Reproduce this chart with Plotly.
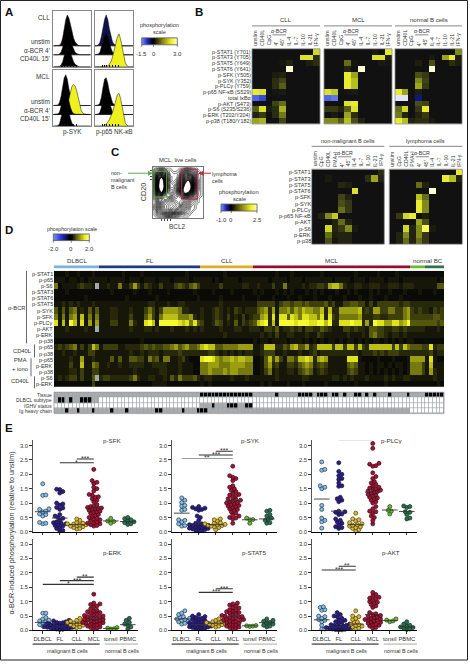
import plotly.graph_objects as go

W, H = 470, 664
FONT = "Liberation Sans"

# ---------- Panel A histograms (relative heights across the channel bins) ----------
hist_bins = list(range(25))
a_cll_syk = [0,0,0,0,.02,.08,.25,.55,.85,1,.9,.7,.45,.25,.12,.05,.02,0,0,0,0,0,0,0,0]
a_cll_syk2 = [0,0,0,0,.04,.12,.3,.6,.9,1,.85,.65,.4,.22,.1,.05,.02,0,0,0,0,0,0,0,0]
a_cll_p65u = [0,0,.03,.1,.3,.6,.85,1,.85,.55,.3,.12,.05,.01,0,0,0,0,0,0,0,0,0,0,0]
a_cll_p65y = [0,0,0,0,0,0,0,0,.02,.08,.15,.3,.5,.7,.9,1,.85,.6,.3,.12,.03,0,0,0,0]
a_mcl_sykb = [0,0,0,.02,.1,.3,.6,.9,1,.85,.55,.3,.12,.04,.01,0,0,0,0,0,0,0,0,0,0]
a_mcl_syky = [0,0,0,0,0,0,.02,.06,.15,.3,.5,.75,.95,1,.95,.8,.55,.3,.12,.04,.01,0,0,0,0]
a_mcl_p65b = [0,0,.02,.08,.3,.65,.95,1,.8,.5,.25,.1,.03,0,0,0,0,0,0,0,0,0,0,0,0]
a_mcl_p65y = [0,0,0,0,0,0,.03,.07,.12,.2,.3,.42,.6,.8,.95,1,.85,.6,.3,.1,.03,0,0,0,0]

# ---------- Panel B ----------
b_rows = ["p-STAT1 (Y701)", "p-STAT3 (Y705)", "p-STAT5 (Y649)", "p-STAT6 (Y641)", "p-SFK (Y505)", "p-SYK (Y352)",
          "p-PLCγ (Y759)", "p-p65 NF-κB (S529)", "total IκBα", "p-AKT (S473)", "p-S6 (S235/S236)",
          "p-ERK (T202/Y204)", "p-p38 (T180/Y182)"]
b_cols = ["unstim", "CD40L", "CpG", "4'", "45'", "IL-4", "IL-7", "IL-10", "IL-21", "IFN-γ"]
b_cll = [[0,0,0,0,0,0,0,0,0,8],
         [0,0,0,0,0,0,0,8.5,8.5,1.5],
         [0,0,0,0,.3,1,0,0,.8,1.5],
         [0,0,0,0,0,11.5,0,0,0,0],
         [0,0,0,.7,1,0,0,0,0,0],
         [0,0,0,1.5,2.5,0,0,0,0,0],
         [0,0,0,1.5,3.5,0,0,0,0,0],
         [9,8.5,0,.3,.5,0,0,0,0,0],
         [-6.5,-5.5,0,-.3,-.3,0,0,0,0,0],
         [0,0,0,2.5,4,0,0,0,0,0],
         [3.5,8.5,.7,1.5,6.5,0,0,0,0,0],
         [1,2,0,1.5,4.5,0,0,0,0,0],
         [6,6.5,0,0,2.5,0,0,0,0,0]]
b_mcl = [[0,0,0,0,0,0,0,.5,0,9],
         [0,0,0,0,0,0,0,8.5,8.5,.8],
         [0,0,0,4,.3,0,0,0,.5,.3],
         [0,0,0,1,0,11.5,0,0,0,0],
         [0,0,0,9,6,0,0,0,0,0],
         [0,0,0,9,7,0,0,0,0,0],
         [0,0,0,9,7,0,0,0,0,0],
         [8.5,7.5,0,.3,.5,0,0,0,0,0],
         [-6.5,-7,0,-.3,-.3,0,0,0,0,0],
         [0,0,0,8.5,9,0,0,0,0,0],
         [2,2,1,3.5,8.5,0,0,0,0,0],
         [0,.5,0,6,1.5,0,0,0,0,0],
         [5,5,3.5,7,3,1,0,0,0,0]]
b_nor = [[0,0,0,0,0,0,0,0,0,5],
         [0,0,0,0,0,.5,0,6,9,.7],
         [0,0,0,.8,0,3,0,0,1.5,.7],
         [0,0,0,0,0,11.5,0,0,0,0],
         [0,0,0,3,2,0,0,0,0,0],
         [0,0,0,5,2.5,0,0,0,0,0],
         [0,0,0,6,2,0,0,0,0,0],
         [9,6,0,.8,0,0,0,0,0,0],
         [-11,-11,0,-3,-.2,0,0,0,0,0],
         [0,0,0,3,2.5,0,0,0,0,0],
         [4,8,0,2,9,0,0,0,0,0],
         [4.5,1,0,1,2,0,0,0,0,0],
         [9,7,1,1.5,1.5,.5,0,0,0,0]]

# ---------- Panel C ----------
c_rows = ["p-STAT1", "p-STAT3", "p-STAT5", "p-STAT6", "p-SFK", "p-SYK", "p-PLCγ", "p-p65 NF-κB", "p-AKT", "p-S6", "p-ERK", "p-p38"]
c_cols = ["unstim", "CpG", "CD40L", "PMA+I", "4'", "45'", "IL-4", "IL-7", "IL-10", "IL-21", "IFN-γ"]
c_non = [[0,0,0,0,0,0,0,0,0,0,1.5],
         [0,0,.5,0,0,0,0,0,1.5,6,1],
         [0,0,0,0,1.2,.8,0,0,0,0,0],
         [0,0,0,0,0,0,8.5,0,0,0,0],
         [0,0,0,0,2.5,1,0,0,0,0,0],
         [0,0,0,0,3,2,0,0,0,0,0],
         [0,0,0,0,4,2,0,0,0,0,0],
         [0,1,5,7.5,0,0,0,0,0,0,0],
         [0,0,0,1,4,1,0,0,0,0,0],
         [0,0,8,1,2,5,.5,0,0,0,0],
         [0,0,4,.8,1,1,0,0,0,0,0],
         [0,0,3,.3,1,1,0,0,0,0,0]]
c_lym = [[0,0,0,0,0,0,0,0,0,0,9],
         [0,0,-.5,0,0,0,0,0,9,7,1],
         [0,0,0,0,4,1,0,0,0,0,0],
         [0,0,0,0,0,0,11.5,0,0,0,0],
         [0,0,0,0,7,4,0,0,0,0,0],
         [0,0,0,0,9,5,0,0,0,0,0],
         [0,0,0,0,9,5,0,0,0,0,0],
         [0,2,8,9,0,.8,0,0,0,0,0],
         [0,0,0,0,6,3,0,0,0,0,0],
         [0,0,8,1,5,10.5,.5,0,0,0,0],
         [0,1,5,1,5,2,0,0,0,0,0],
         [0,1,4,1,4,2,0,0,0,0,0]]

# gated density for the contour plot, top row first
c_density = [[0,1,2,2,2,1,0,0,0,0,1,2,2,2,1,0,0,0],
             [1,3,5,6,5,2,1,0,0,1,3,6,6,5,3,1,0,0],
             [1,5,10,12,9,4,1,1,1,2,6,10,10,8,5,2,1,0],
             [2,7,15,19,13,5,2,1,1,3,8,13,15,12,6,2,1,0],
             [2,8,18,26,16,6,2,1,2,5,10,16,20,15,8,3,1,0],
             [2,8,19,30,17,6,3,2,3,7,13,20,26,18,9,3,1,0],
             [2,8,20,32,18,7,3,3,5,9,15,24,30,20,9,3,1,0],
             [2,7,18,28,16,7,4,4,6,11,18,26,28,18,8,3,1,0],
             [2,6,14,20,12,7,5,6,8,12,18,22,20,13,6,2,1,0],
             [1,4,9,11,9,7,7,8,9,11,14,14,12,8,4,2,1,0],
             [1,3,6,7,8,9,10,10,10,10,10,9,7,5,3,1,0,0],
             [1,2,5,8,10,11,12,12,11,10,9,7,5,3,2,1,0,0],
             [1,3,6,9,11,12,13,13,12,11,8,6,4,2,1,0,0,0],
             [1,3,6,9,11,12,13,12,11,9,7,5,3,1,1,0,0,0],
             [1,2,5,7,9,10,10,10,8,7,5,3,2,1,0,0,0,0],
             [0,1,3,4,5,6,6,5,4,3,2,1,1,0,0,0,0,0],
             [0,0,1,2,2,2,2,2,1,1,1,0,0,0,0,0,0,0]]

# ---------- Panel D (levels 0-9, n = no data), one string per cohort ----------
d_rows = ["p-STAT1","p-p65","p-S6","p-STAT3","p-STAT6","p-STAT5","p-SYK","p-SFK","p-PLCγ","p-AKT","p-ERK","p-p38",
          "p-p65","p-p38","p-p65","p-ERK","p-p38","p-S6","p-ERK"]
d_dlbcl = ["000100100010","111011010111","50111123221n","000100000000","000000001000","112121211121",
           "414145121414","515156171515","817197181616","11121111211n","111111111111","000000000000",
           "232345131375","112112111331","111121161121","111131171154","111122131133","12123313114n","000000000030"]
d_fl = ["000000100001000000000001000","110111101110111011101111011","112115113631321131113432453",
        "000100000100010000100000010","000000010000000100000000001","111111111111122111211221111",
        "111221112111353136666522111","111221113111463157777555621","111331115211897199999878584",
        "111111112111221211121112121","111111111111111111111111111","000000000001000000000000000",
        "133331122223434334456456445","111111112112122212222322222","111414114433153415511231000",
        "112112112222112222111211100","111111111211111122111211100","233222223521122112142533342",
        "000000000000001111000000000"]
d_cll = ["00000010000000","11101011110111","11111311111221","00010000100000","00000100000100","11111211111111",
         "21123212132122","21123213121312","31124312141323","21111211122112","11111121111111","00000000000000",
         "78774455556666","22332121212122","89986566767766","55666555666655","55655565665555","12211111211121",
         "10100000000000"]
d_mcl = ["000000100010000000100000000100000100001000","111101111011101111111011110111011110111011",
         "121113115111121223326775211221122211222122","101000101010001010100010010100010100100010",
         "010001000100100010001000100010010001000100","133333134434434333342311334433131333333233",
         "245626155646576655727226666672326633553356","336728188487588775828325555562223322333356",
         "478927199998999889979228889882629886688679","221332412232313322432111332322144332233232",
         "112121311221112113211111121112145332122121","101101111011101010101101011010101101010101",
         "112777224367446237777377377373277777737375","112333112111211231222222222212223232333222",
         "001473631553778726761111188810000100010001","001462311332456523431111145411010110101101",
         "001351211221345412321111134311010101010101","111111211111122111111221212111211112121122",
         "001010000100010000010000000100000001000000"]
d_ton = ["0000","1111","2111","0010","0000","2222","3232","3333","4444","2222","1111","1000","4443","2222","6666","5553","5553","1111","0000"]
d_pbm = ["00000","11101","11144","00100","00000","22222","21323","33443","44434","11121","11111","00000","38233","23122","18100","17111","16211","11211","00010"]

e_tissue = "1"*12 + "1"*27 + "2"*14 + "111111211111222212221221211221212111211112" + "1111" + "22222"
e_subtype = "122121122211" + "0"*92
e_ighv = "0"*39 + "11121112221122" + "0"*51
e_heavy = "111211211121" + "111211121111111221111121112" + "22111111111111" + "1"*42 + "0000" + "00000"
strip_labels = ["Tissue", "DLBCL subtype", "IGHV status", "Ig heavy chain"]

cohort_sizes = [12, 27, 14, 42, 4, 5]
cohort_bar_colors = ["#7db4dc", "#1d3a8a", "#e3aa2c", "#8f1030", "#6fb92e", "#2f7050"]

# ---------- Panel E ----------
e_groups = ["DLBCL", "FL", "CLL", "MCL", "tonsil", "PBMC"]
sfk = [[1.67,1.28,1.27,.8,.78,.72,.7,.62,.6,.55,.33,.3,.28],
       [1.48,1.47,1.4,1.35,1.0,.97,.93,.85,.83,.78,.6,.55,.5,.47,.4,.35,.32,.3,.28,.25,.22,.2,.15,.12,.05,.03],
       [.45,.4,.33,.3,.28,.27,.25,.24,.22,.2,.18,.15,.12,.1],
       [2.17,1.78,1.72,1.68,1.55,1.5,1.42,1.3,1.28,1.22,1.2,1.15,1.1,1.05,.95,.9,.88,.85,.83,.82,.8,.78,.75,.72,.7,.68,.65,.6,.58,.55,.5,.48,.45,.42,.4,.35,.32,.3,.28,.25,.22,.2],
       [.47,.38,.36,.3],
       [.5,.46,.42,.38,.35,.32,.28,.26]]
syk = [[1.18,1.1,1.02,.92,.9,.78,.75,.42,.4,.35,.28,.22,.2],
       [.88,.85,.82,.8,.78,.75,.55,.5,.4,.3,.28,.26,.25,.23,.22,.2,.18,.17,.15,.13,.12,.1,.08,.06,.05,.03],
       [.45,.42,.38,.32,.3,.28,.26,.25,.23,.22,.2,.18,.15,.08],
       [2.28,1.95,1.9,1.85,1.78,1.6,1.55,1.5,1.45,1.4,1.35,1.3,1.28,1.25,1.2,1.15,1.12,1.1,1.08,1.05,1.02,1.0,.98,.95,.92,.9,.88,.85,.8,.78,.75,.7,.65,.6,.55,.5,.48,.45,.3],
       [.48,.43,.42,.3],
       [.75,.72,.6,.55,.48,.45,.4,.32,.3]]
plc = [[2.43,2.17,2.14,1.6,1.55,1.5,.92,.78,.48,.4,.35,.13],
       [2.4,2.1,2.0,1.95,1.85,1.82,1.7,1.6,1.58,1.2,1.15,1.1,1.05,.72,.7,.68,.62,.6,.45,.4,.35,.3,.25,.18,.15,.12],
       [.65,.45,.42,.38,.32,.28,.25,.23,.2,.18,.15,.12,.08,.03],
       [3.07,2.9,2.38,2.35,2.3,2.28,2.05,1.92,1.85,1.75,1.7,1.65,1.6,1.55,1.52,1.5,1.48,1.45,1.42,1.4,1.38,1.35,1.3,1.28,1.25,1.2,1.18,1.15,1.1,1.05,1.0,.88,.8,.72,.7,.65,.55,.5,.4,.28],
       [.88,.75,.72,.62],
       [.9,.88,.85,.7,.68,.6,.48,.45]]
erk = [[.6,.6,.45,.4,.36,.33,.3,.28,.25,.2,.18,.15],
       [.35,.33,.3,.28,.27,.25,.24,.22,.2,.19,.18,.17,.16,.15,.14,.13,.12,.11,.1,.09,.08,.07,.06,.05,.04,.03],
       [.42,.35,.32,.3,.28,.26,.25,.24,.22,.2,.18,.15,.12,.1],
       [1.26,.95,.92,.9,.85,.82,.75,.7,.68,.65,.62,.6,.58,.55,.52,.5,.48,.47,.45,.43,.42,.4,.38,.37,.35,.33,.32,.3,.28,.27,.25,.23,.22,.2,.18,.15,.12,.1,.08,.05],
       [.1,.08,.06,.05],
       [.42,.35,.28,.22,.18,.12,.05]]
stat5 = [[.68,.6,.55,.48,.45,.42,.4,.38,.35,.32,.3,.25,.22],
         [.55,.5,.48,.45,.42,.4,.38,.35,.33,.3,.28,.26,.25,.23,.22,.2,.18,.17,.15,.13,.12,.1,.08,.07,.06,.05],
         [.4,.35,.32,.3,.28,.27,.26,.25,.24,.22,.2,.18,.15,.12],
         [.95,.92,.88,.85,.8,.78,.72,.7,.68,.65,.62,.6,.58,.55,.52,.5,.48,.47,.45,.43,.42,.4,.38,.36,.35,.33,.32,.3,.28,.25,.22,.2,.18,.15,.12,.1,.08,.05],
         [.17,.16,.15,.14],
         [.4,.35,.32,.28,.25,.22,.18,.15,.12]]
akt = [[.82,.8,.72,.7,.5,.48,.42,.38,.35,.3,.18,.05,.05],
       [.62,.55,.5,.48,.42,.38,.35,.3,.28,.25,.22,.2,.18,.17,.15,.14,.12,.1,.09,.08,.06,.05,.04,.03,.02,.02],
       [.68,.5,.48,.42,.38,.3,.28,.22,.2,.18,.15,.12,.08,.05],
       [1.32,1.25,1.2,1.15,1.12,1.1,1.05,1.0,.98,.95,.9,.85,.8,.62,.58,.55,.52,.5,.48,.45,.42,.4,.38,.36,.35,.33,.3,.28,.25,.22,.2,.18,.15,.1,.08],
       [.4,.36,.33,.3],
       [.3,.22,.18,.15,.12,.1,.08,.05,.03]]
medians = {"p-SFK": [.7,.48,.25,.83,.38,.36], "p-SYK": [.65,.27,.25,1.07,.42,.45], "p-PLCγ": [1.14,.72,.25,1.38,.76,.71],
           "p-ERK": [.28,.12,.25,.4,.07,.2], "p-STAT5": [.4,.2,.25,.5,.16,.27], "p-AKT": [.37,.12,.22,.55,.34,.12]}
sig = {"p-SFK": [(1,3,2.4,"*"),(2,3,2.53,"***")],
       "p-SYK": [(0,3,2.55,"**"),(1,3,2.67,"***"),(2,3,2.8,"***")],
       "p-PLCγ": [(1,3,3.2,"**"),(2,3,3.33,"***")],
       "p-ERK": [(0,3,1.6,"*"),(1,3,1.73,"***"),(2,3,1.85,"**")],
       "p-STAT5": [(1,3,1.32,"***"),(2,3,1.45,"***")],
       "p-AKT": [(0,2,2.1,"***"),(1,2,2.23,"**")]}
e_fill = ["#8fbcd8", "#2b1f78", "#d8b93a", "#a01535", "#6fb33c", "#2f6e50"]
e_edge = ["#173a5e", "#14104a", "#4a3a08", "#3a0612", "#1f4a10", "#0d3020"]

# ---------- colour scales ----------
HEAT_MAX = 11.5
def hs(v): return (v + HEAT_MAX) / (2 * HEAT_MAX)
heat_scale = [[hs(-11.5),"#eeeeff"],[hs(-9),"#b0b8f0"],[hs(-6),"#3c55e4"],[hs(-3),"#10187c"],[hs(-.4),"#101018"],
              [hs(0),"#111111"],[hs(1),"#222310"],[hs(3),"#4a4e18"],[hs(5),"#7f8a1c"],[hs(7),"#b4c020"],
              [hs(9),"#e8ec30"],[hs(10.5),"#fbfb5a"],[hs(11.5),"#ffffd8"]]
# first stop (-1) is the grey used for samples with no data
d_pos = lambda v: (v + 1) / 10
d_scale = [[0,"#a4a8a8"],[d_pos(-.5),"#a4a8a8"],[d_pos(-.5),"#0a0a06"],[d_pos(0),"#0a0a06"],[d_pos(1),"#161708"],[d_pos(2),"#262809"],[d_pos(3),"#3c3e0b"],
           [d_pos(4),"#55580c"],[d_pos(5),"#75790e"],[d_pos(6),"#9a9e10"],[d_pos(7),"#bcc014"],[d_pos(8),"#dfe31c"],[d_pos(9),"#f6fa30"]]
strip_scale = [[0,"#ffffff"],[.5,"#a8acae"],[1,"#000000"]]

fig = go.Figure()
ann, shp, axes = [], [], {}
count = [0]

def axis(x0, y0, x1, y1, xa=None, ya=None):
    count[0] += 1
    n = count[0]
    base = dict(visible=False, fixedrange=True)
    xd = dict(base, domain=[x0 / W, x1 / W], anchor=f"y{n}")
    yd = dict(base, domain=[1 - y1 / H, 1 - y0 / H], anchor=f"x{n}")
    xd.update(xa or {}); yd.update(ya or {})
    axes[f"xaxis{n}"] = xd
    axes[f"yaxis{n}"] = yd
    return f"x{n}", f"y{n}"

def text(x, y, s, size=5.8, anchor="center", angle=0, color="#333", bold=False):
    ann.append(dict(x=x / W, y=1 - y / H, xref="paper", yref="paper", text=f"<b>{s}</b>" if bold else s, showarrow=False,
                    font=dict(family=FONT, size=size, color=color), xanchor=anchor, yanchor="middle",
                    textangle=angle, borderpad=0, borderwidth=0))

def line(x0, y0, x1, y1, color="#444", width=1):
    shp.append(dict(type="line", xref="paper", yref="paper", x0=x0 / W, x1=x1 / W, y0=1 - y0 / H, y1=1 - y1 / H,
                    line=dict(color=color, width=width)))

def rect(x0, y0, x1, y1, color, width=1):
    shp.append(dict(type="rect", xref="paper", yref="paper", x0=x0 / W, x1=x1 / W, y0=1 - y0 / H, y1=1 - y1 / H,
                    line=dict(color=color, width=width)))

def heat(x0, y0, x1, y1, z):
    xa, ya = axis(x0, y0, x1, y1, ya=dict(autorange="reversed"), xa=dict())
    fig.add_trace(go.Heatmap(z=z, xaxis=xa, yaxis=ya, colorscale=heat_scale, zmin=-HEAT_MAX, zmax=HEAT_MAX,
                             showscale=False, xgap=0, ygap=0, hoverinfo="skip"))
    rect(x0, y0, x1, y1, "#888", .8)

def colorbar(x0, y0, x1, y1, lo, hi, ticks, tick_y):
    steps = 60
    vals = [lo + (hi - lo) * i / (steps - 1) for i in range(steps)]
    xa, ya = axis(x0, y0, x1, y1, xa=dict(range=[lo, hi]))
    zero = -lo / (hi - lo)
    scale = [[0,"#8090f0"],[zero*.45,"#2030d0"],[zero*.9,"#000010"],[zero,"#000000"],
             [zero+(1-zero)*.35,"#777710"],[zero+(1-zero)*.75,"#f0f020"],[1,"#ffffc0"]]
    fig.add_trace(go.Heatmap(x=vals, z=[vals], xaxis=xa, yaxis=ya, colorscale=scale, zmin=lo, zmax=hi, showscale=False, hoverinfo="skip"))
    rect(x0, y0, x1, y1, "#555", .8)
    for t, lab in ticks:
        px = x0 + (t - lo) / (hi - lo) * (x1 - x0)
        line(px, y1, px, y1 + 2, "#444", .7)
        text(px, tick_y, lab, 6)

# ===== Panel letters =====
for s, x, y in [("A", 9, 12), ("B", 199, 12), ("C", 115, 153), ("D", 9, 231), ("E", 9, 430)]:
    text(x, y, s, 11.5, bold=True, color="#111")

# ===== Panel A =====
def hist_box(x0, y0, x1, y1, layers, baselines):
    xa, ya = axis(x0, y0, x1, y1,
                  xa=dict(visible=True, range=[0, 24], showgrid=False, zeroline=False, showticklabels=False, ticks="inside",
                          tickvals=[5,6,7,9,11,13,15], ticklen=2, tickcolor="#111", showline=True, mirror=True, linecolor="#888", linewidth=1),
                  ya=dict(visible=True, range=[0, y1 - y0], showgrid=False, zeroline=False, showticklabels=False, ticks="",
                          showline=True, mirror=True, linecolor="#888", linewidth=1))
    for b in baselines:
        fig.add_trace(go.Scatter(x=[0, 24], y=[b, b], xaxis=xa, yaxis=ya, mode="lines", line=dict(color="#777", width=1), hoverinfo="skip"))
    for heights, base, peak, col in layers:
        xs = hist_bins + hist_bins[::-1]
        ys = [base + h * peak for h in heights] + [base] * len(heights)
        fig.add_trace(go.Scatter(x=xs, y=ys, xaxis=xa, yaxis=ya, mode="lines", fill="toself", fillcolor=col,
                                 line=dict(color="#111", width=.5), hoverinfo="skip"))

hist_box(53.3, 10.7, 90.7, 67, [(a_cll_syk, 21, 31, "#000"), (a_cll_syk2, 12, 24, "#000"), (a_cll_syk, 0, 20, "#000")], [21, 12])
hist_box(95, 10.7, 133.3, 67, [(a_cll_p65u, 21, 31, "#12124a"), (a_cll_p65u, 12, 22, "#000"), (a_cll_p65y, 0, 33, "#eef020")], [21, 12])
hist_box(53.3, 70.7, 90.7, 126.7, [(a_mcl_sykb, 20.7, 31, "#000"), (a_mcl_syky, 11.7, 30, "#eef020"), (a_mcl_sykb, 11.7, 24, "#000"), (a_mcl_sykb, 0, 25, "#000")], [20.7, 11.7])
hist_box(95, 70.7, 133.3, 126.7, [(a_mcl_p65b, 20.7, 28, "#000"), (a_mcl_p65b, 11.7, 24, "#000"), (a_mcl_p65y, 0, 33, "#eef020"), ], [20.7, 11.7])
for y, s in [(18, "CLL"), (42, "unstim"), (50.5, "α-BCR 4'"), (59, "CD40L 15'"), (77, "MCL"), (102, "unstim"), (110.5, "α-BCR 4'"), (119, "CD40L 15'")]:
    text(50, y, s, 6.4, "right")
text(72, 133, "p-SYK", 6.4)
text(114, 133, "p-p65 NK-κB", 6.4)
text(159, 25, "phosphorylation", 5.5)
text(159, 32, "scale", 5.5)
colorbar(141.7, 38, 177.3, 45, -1.5, 3.0, [(-1.5, "-1.5"), (0, "0"), (3.0, "3.0")], 54)

# ===== Panel B =====
b_x = [(252, 320), (324, 392), (395, 462)]
b_titles = ["CLL", "MCL", "normal B cells"]
for (x0, x1), z, t in zip(b_x, [b_cll, b_mcl, b_nor], b_titles):
    heat(x0, 49, x1, 124.5, z)
    text((x0 + x1) / 2, 20, t, 6)
    line(x0, 26, x1, 26, "#888", 1)
    cw = (x1 - x0) / len(b_cols)
    for i, c in enumerate(b_cols):
        ann.append(dict(x=(x0 + cw * (i + .5)) / W, y=1 - 48 / H, xref="paper", yref="paper", text=c, showarrow=False,
                        font=dict(family=FONT, size=5.2, color="#333"), textangle=-90, xanchor="center", yanchor="bottom"))
    text(x0 + cw * 4, 31.5, "α-BCR", 5.2)
    line(x0 + cw * 3, 35, x0 + cw * 5, 35, "#555", .7)
rh = 75.5 / len(b_rows)
for i, r in enumerate(b_rows):
    text(251, 49 + rh * (i + .5), r, 5.4, "right")

# ===== Panel C =====
xa, ya = axis(152.7, 168, 203, 219, xa=dict(visible=True, showticklabels=False, showgrid=False, zeroline=False, showline=True, mirror=True,
              linecolor="#777", linewidth=1, ticks="outside", ticklen=2, tickvals=[3,4,5,6], range=[0, 17]),
              ya=dict(visible=True, showticklabels=False, showgrid=False, zeroline=False, showline=True, mirror=True, linecolor="#777",
                      linewidth=1, ticks="outside", ticklen=2, tickvals=[1,2,3,4], range=[16, 0]))
fig.add_trace(go.Contour(z=c_density, xaxis=xa, yaxis=ya, showscale=False, hoverinfo="skip",
                         contours=dict(coloring="lines", start=.3, end=21, size=.6),
                         colorscale=[[0, "#000"], [1, "#000"]], line=dict(width=.5, smoothing=1)))
rect(154, 172, 166.7, 198, "#59a83c", 1)
rect(181.7, 170, 197.3, 200, "#b02a4a", 1)
text(177, 161, "MCL, live cells", 5.8)
text(143, 193, "CD20", 7.2, angle=-90)
text(177, 228, "BCL2", 6.4)
for y, s in [(174, "non-"), (181, "malignant"), (188, "B cells")]:
    text(111, y, s, 5.4, "left")
for y, s in [(175, "lymphoma"), (182, "cells")]:
    text(212, y, s, 5.4, "left")
line(128, 174, 152, 174, "#59b04a", 1)
line(199, 174, 211, 174, "#c02a3a", 1)
ann.append(dict(x=153 / W, y=1 - 174 / H, ax=-4, ay=0, xref="paper", yref="paper", showarrow=True, arrowhead=2, arrowsize=1, arrowwidth=1, arrowcolor="#59b04a", text=""))
ann.append(dict(x=198.5 / W, y=1 - 174 / H, ax=4, ay=0, xref="paper", yref="paper", showarrow=True, arrowhead=2, arrowsize=1, arrowwidth=1, arrowcolor="#c02a3a", text=""))
text(239, 193, "phosphorylation", 5.6)
text(239, 200, "scale", 5.6)
colorbar(221, 205, 257, 212, -1.0, 2.5, [(-1.0, "-1.0"), (0, "0"), (2.5, "2.5")], 221)

c_x = [(311.7, 384.3), (389.3, 462.3)]
for (x0, x1), z, t in zip(c_x, [c_non, c_lym], ["non-malignant B cells", "lymphoma cells"]):
    heat(x0, 170, x1, 245.3, z)
    text((x0 + x1) / 2, 142, t, 5.6)
    line(x0, 147, x1, 147, "#888", 1)
    cw = (x1 - x0) / len(c_cols)
    for i, c in enumerate(c_cols):
        ann.append(dict(x=(x0 + cw * (i + .5)) / W, y=1 - 169.5 / H, xref="paper", yref="paper", text=c, showarrow=False,
                        font=dict(family=FONT, size=5.1, color="#333"), textangle=-90, xanchor="center", yanchor="bottom"))
    text(x0 + cw * 5, 154, "α-BCR", 5.2)
    line(x0 + cw * 4, 157.5, x0 + cw * 6, 157.5, "#555", .7)
rh = 75.3 / len(c_rows)
for i, r in enumerate(c_rows):
    text(310.5, 170 + rh * (i + .5), r, 5.6, "right")

# ===== Panel D =====
text(72, 230, "phosphorylation scale", 5.2)
colorbar(53.3, 235, 89.3, 241.7, -2.0, 2.0, [(-2.0, "-2.0"), (0, "0"), (2.0, "2.0")], 250)
DX0, DX1, DY0, DY1 = 54, 444, 272, 389
n_cols = sum(cohort_sizes)
def fit(s, n):
    return (s + s[-1] * n)[:n]
d_matrix = []
for i in range(len(d_rows)):
    joined = "".join(fit(g[i], n) for g, n in zip([d_dlbcl, d_fl, d_cll, d_mcl, d_ton, d_pbm], cohort_sizes))
    d_matrix.append([-1 if c == "n" else int(c) for c in joined])
xa, ya = axis(DX0, DY0, DX1, DY1, xa=dict(range=[-.5, n_cols - .5]), ya=dict(autorange="reversed"))
fig.add_trace(go.Heatmap(z=d_matrix, xaxis=xa, yaxis=ya, colorscale=d_scale, zmin=-1, zmax=9, showscale=False, hoverinfo="skip"))
rh = (DY1 - DY0) / len(d_rows)
for i, r in enumerate(d_rows):
    text(52.5, DY0 + rh * (i + .5), r, 5.5, "right")
bar_z = []
for k, n in enumerate(cohort_sizes):
    bar_z += [k] * n
xa, ya = axis(DX0, 266.5, DX1, 270, xa=dict(range=[-.5, n_cols - .5]))
k_n = len(cohort_bar_colors) - 1
bscale = []
for k, c in enumerate(cohort_bar_colors):
    bscale += [[k / (k_n + 1), c], [(k + 1) / (k_n + 1), c]]
fig.add_trace(go.Heatmap(z=[bar_z], xaxis=xa, yaxis=ya, colorscale=bscale, zmin=-.5, zmax=k_n + .5, showscale=False, hoverinfo="skip"))
for name, x in [("DLBCL", 77), ("FL", 150), ("CLL", 227), ("MCL", 332), ("normal BC", 428)]:
    text(x, 262, name, 6.2)
text(26, 309, "α-BCR", 5.8, "right")
line(26.5, 272, 26.5, 345, "#444", .8)
text(22, 352.7, "CD40L", 5.8)
line(34.5, 346, 34.5, 359, "#444", .8)
text(20, 362, "PMA", 5.8)
text(20, 371, "+ iono", 5.8)
line(31, 360, 31, 378, "#444", .8)
text(20, 383, "CD40L", 5.8)
line(34.5, 378, 34.5, 390, "#444", .8)

# annotation strip
strip = [[int(c) for c in fit(s, n_cols)] for s in (e_tissue, e_subtype, e_ighv, e_heavy)]
xa, ya = axis(DX0, 394, DX1, 415.5, xa=dict(range=[-.5, n_cols - .5]), ya=dict(autorange="reversed"))
strip_grid = [[1] * n_cols for _ in strip]
fig.add_trace(go.Heatmap(z=strip_grid, xaxis=xa, yaxis=ya, colorscale=[[0, "#a0a4a6"], [1, "#a0a4a6"]], showscale=False, hoverinfo="skip"))
fig.add_trace(go.Heatmap(z=strip, xaxis=xa, yaxis=ya, colorscale=strip_scale, zmin=0, zmax=2, showscale=False, xgap=.7, ygap=.7, hoverinfo="skip"))
rect(DX0, 394, DX1, 415.5, "#888", .7)
for i, s in enumerate(strip_labels):
    text(52, 394 + 5.37 * (i + .5), s, 5.1, "right")

# ===== Panel E =====
PX_PER_CAT = 17.0
def swarm(values, px_per_unit, d=3.1):
    placed, out = [], []
    for v in sorted(values):
        py = v * px_per_unit
        cand = [0.0]
        for k in range(1, 14):
            cand += [k * d / 2, -k * d / 2]
        for c in cand:
            if all((c - a) ** 2 + (py - b) ** 2 >= d * d for a, b in placed):
                placed.append((c, py)); out.append((c, v)); break
    return out

e_cols = [32.7, 171.7, 311.7]
e_rows = [(442, 534.3), (541, 633.3)]
panels = [("p-SFK", sfk, 0, 0, 112), ("p-SYK", syk, 1, 0, 250), ("p-PLCγ", plc, 2, 0, 392),
          ("p-ERK", erk, 0, 1, 112), ("p-STAT5", stat5, 1, 1, 254), ("p-AKT", akt, 2, 1, 391)]
YMAX = 3.19
for name, groups, c, r, title_x in panels:
    x0 = e_cols[c]; x1 = x0 + 105.3
    y0, y1 = e_rows[r]
    xa, ya = axis(x0, y0, x1, y1,
                  xa=dict(visible=True, range=[-.59, 5.6], showgrid=False, zeroline=False, showline=True, linecolor="#000", linewidth=1,
                          ticks="outside", ticklen=2.5, tickcolor="#333", tickwidth=.8, tickvals=list(range(6)),
                          ticktext=e_groups if r == 1 else [""] * 6, tickfont=dict(family=FONT, size=5.8, color="#333"), tickangle=0),
                  ya=dict(visible=True, range=[0, YMAX], showgrid=False, zeroline=False, showline=True, linecolor="#555", linewidth=1.2,
                          ticks="outside", ticklen=2.5, tickcolor="#333", tickwidth=.8, tickvals=[0, .5, 1, 1.5, 2, 2.5, 3],
                          ticktext=["0.0", "0.5", "1.0", "1.5", "2.0", "2.5", "3.0"], tickfont=dict(family=FONT, size=5.8, color="#333")))
    unit_px = (y1 - y0) / YMAX
    for g, vals in enumerate(groups):
        s = swarm(vals, unit_px)
        fig.add_trace(go.Scatter(x=[g + a / PX_PER_CAT for a, _ in s], y=[b for _, b in s], xaxis=xa, yaxis=ya, mode="markers",
                                 marker=dict(size=4, color=e_fill[g], line=dict(color=e_edge[g], width=.7)), cliponaxis=False, hoverinfo="skip"))
        m = medians[name][g]
        fig.add_trace(go.Scatter(x=[g - .46, g + .46], y=[m, m], xaxis=xa, yaxis=ya, mode="lines", line=dict(color="#333", width=.9),
                                 cliponaxis=False, hoverinfo="skip"))
    for a, b, yv, stars in sig[name]:
        shade = "#999" if stars == "**" and name in ("p-SYK", "p-PLCγ") else "#333"
        fig.add_trace(go.Scatter(x=[a, b], y=[yv, yv], xaxis=xa, yaxis=ya, mode="lines", line=dict(color=shade, width=1.1),
                                 cliponaxis=False, hoverinfo="skip"))
        ann.append(dict(x=(a + b) / 2, y=yv + .02, xref=xa, yref=ya, text=stars, showarrow=False, yanchor="middle",
                        font=dict(family=FONT, size=7, color="#333")))
    text(title_x, y0 + 1 if r == 0 else 555, name, 6.2)

for x0 in e_cols:
    line(x0, 647, x0 + 67, 647, "#111", 1)
    line(x0 + 72, 647, x0 + 105.3, 647, "#aaa", 1)
    text(x0 + 35, 653.5, "malignant B cells", 5.4)
    text(x0 + 89, 653.5, "normal B cells", 5.4)
text(12, 536, "α-BCR-induced phosphorylation (relative to unstim)", 7.2, angle=-90)

# figure frame
shp.append(dict(type="rect", xref="paper", yref="paper", x0=.5 / W, x1=467.5 / W, y0=1 - 663 / H, y1=1 - .5 / H,
                line=dict(color="#222", width=1)))

fig.update_layout(width=W, height=H, margin=dict(l=0, r=0, t=0, b=0, pad=0), paper_bgcolor="#fff", plot_bgcolor="#fff",
                  showlegend=False, annotations=ann, shapes=shp, **axes)
fig.write_html("out.html", config=dict(displayModeBar=False),
               post_script="document.body.style.margin='0';document.body.style.overflow='hidden';")
